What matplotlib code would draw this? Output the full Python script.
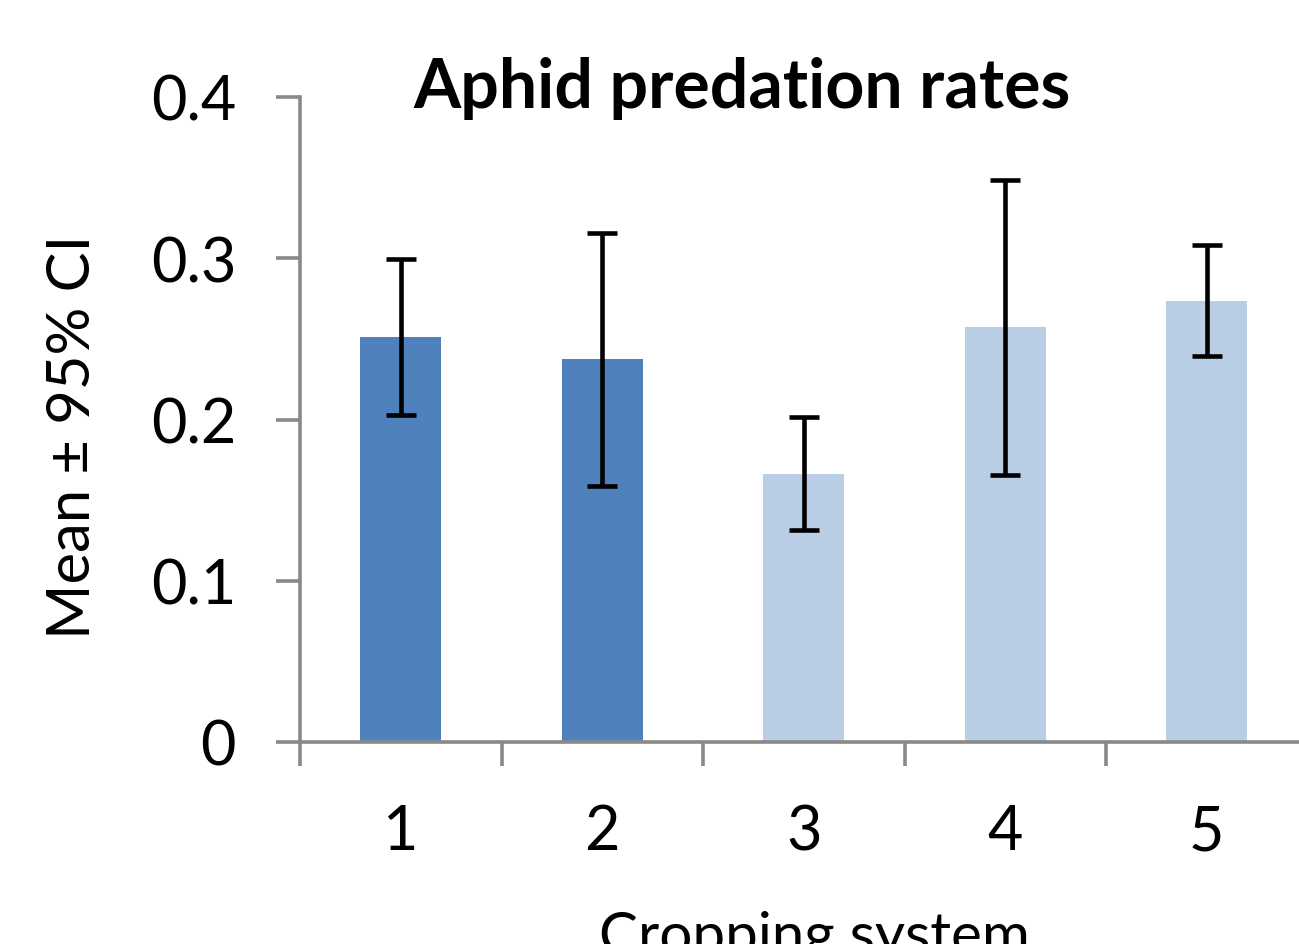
import numpy as np
import matplotlib
matplotlib.use('Agg')
import matplotlib.pyplot as plt

plt.rcParams['font.family'] = ['Lato', 'DejaVu Sans']

# данные
systems = ['1', '2', '3', '4', '5']
means = [0.251, 0.2375, 0.166, 0.2575, 0.2735]
ci_low = [0.203, 0.159, 0.1315, 0.1655, 0.2395]
ci_high = [0.2995, 0.3155, 0.2015, 0.3485, 0.308]
colors = ['#4F81BD', '#4F81BD', '#B9CDE5', '#B9CDE5', '#B9CDE5']

yerr = [np.array(means) - np.array(ci_low), np.array(ci_high) - np.array(means)]
x = np.arange(1, len(systems) + 1)

fig = plt.figure(figsize=(12.99, 9.45), dpi=100)
ax = fig.add_axes([300 / 1299, 202 / 945, 1007.5 / 1299, 645 / 945])

ax.bar(x, means, width=0.4, color=colors, zorder=2)
ax.errorbar(x, means, yerr=yerr, fmt='none', ecolor='black', elinewidth=3.3,
            capsize=11, capthick=3.3, zorder=3)

ax.set_xlim(0.5, 5.5)
ax.set_ylim(0, 0.4)
ax.set_yticks([0, 0.1, 0.2, 0.3, 0.4])
ax.set_yticklabels(['0', '0.1', '0.2', '0.3', '0.4'])
ax.set_xticks(x)
ax.set_xticklabels(systems)
ax.set_xticks(np.arange(0.5, 5.6, 1), minor=True)

grey = '#898989'
for s in ['top', 'right']:
    ax.spines[s].set_visible(False)
for s in ['left', 'bottom']:
    ax.spines[s].set_color(grey)
    ax.spines[s].set_linewidth(2.6)

ax.tick_params(axis='y', direction='out', length=17, width=2.6, color=grey,
               labelsize=44, pad=29)
ax.tick_params(axis='x', which='major', length=0, labelsize=44, pad=44)
ax.tick_params(axis='x', which='minor', direction='out', length=17, width=2.6, color=grey)

ax.set_ylabel('Mean ± 95% CI', fontsize=43)
ax.yaxis.set_label_coords(-0.199, 0.475)
ax.set_xlabel('Cropping system', fontsize=42)
ax.xaxis.set_label_coords(0.511, -0.259)

ax.text(0.4387, 0.984, 'Aphid predation rates', transform=ax.transAxes,
        ha='center', va='baseline', fontsize=49, fontweight='bold')

fig.savefig('out.png', dpi=100)
